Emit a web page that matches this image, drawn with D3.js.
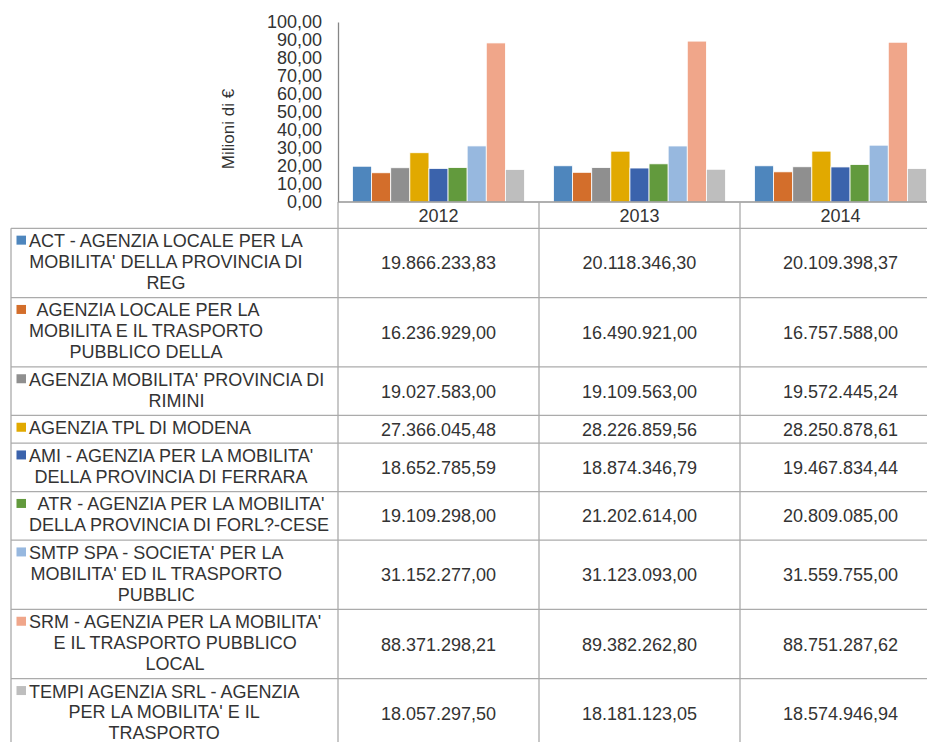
<!DOCTYPE html>
<html>
<head>
  <meta charset="utf-8">
  <title>Agenzie mobilità - Milioni di €</title>
  <script src="https://d3js.org/d3.v7.min.js"></script>
  <style>
  body {
    margin: 0;
    background: #fff;
    font-family: Arial, "Liberation Sans", sans-serif;
  }
  .txt {
    fill: #333;
    font-size: 18px;
    white-space: pre;
  }
  .grid {
    stroke: #ababab;
    stroke-width: 1.3px;
  }
  </style>
</head>
<body>
  <div id="chart"></div>
  <script>
    // dati
    var years = ["2012", "2013", "2014"];

    var labels = [
      ["ACT - AGENZIA LOCALE PER LA", "MOBILITA' DELLA PROVINCIA DI", "REG"],
      [" AGENZIA LOCALE PER LA", "MOBILITA E IL TRASPORTO", "PUBBLICO DELLA"],
      ["AGENZIA MOBILITA' PROVINCIA DI", "RIMINI"],
      ["AGENZIA TPL DI MODENA"],
      ["AMI - AGENZIA PER LA MOBILITA'", "DELLA PROVINCIA DI FERRARA"],
      [" ATR - AGENZIA PER LA MOBILITA'", "DELLA PROVINCIA DI FORL?-CESE"],
      ["SMTP SPA - SOCIETA' PER LA", "MOBILITA' ED IL TRASPORTO", "PUBBLIC"],
      ["SRM - AGENZIA PER LA MOBILITA'", "E IL TRASPORTO PUBBLICO", "LOCAL"],
      ["TEMPI AGENZIA SRL - AGENZIA", "PER LA MOBILITA' E IL", "TRASPORTO"]
    ];

    var values2012 = [19866233.83, 16236929.00, 19027583.00, 27366045.48, 18652785.59, 19109298.00, 31152277.00, 88371298.21, 18057297.50];
    var values2013 = [20118346.30, 16490921.00, 19109563.00, 28226859.56, 18874346.79, 21202614.00, 31123093.00, 89382262.80, 18181123.05];
    var values2014 = [20109398.37, 16757588.00, 19572445.24, 28250878.61, 19467834.44, 20809085.00, 31559755.00, 88751287.62, 18574946.94];

    var yTicks = [0, 10, 20, 30, 40, 50, 60, 70, 80, 90, 100];

    var palette = ["#4e86bd", "#d36e2b", "#8f8f8f", "#e1a900", "#3b63ac", "#629a3d", "#97b8df", "#f0a68a", "#bebebe"];

    var valuesByYear = [values2012, values2013, values2014];

    // formato italiano
    var it = d3.formatLocale({ decimal: ",", thousands: ".", grouping: [3], currency: ["", " €"] });
    var fmt = it.format(",.2f");

    var width = 927, height = 742;
    var svg = d3.select("#chart").append("svg")
      .attr("width", width)
      .attr("height", height);

    var x0 = 338, colW = 201;
    var tableLeft = 11;
    var plotTop = 22, plotBase = 202;

    var x = d3.scaleBand()
      .domain(years)
      .range([x0, x0 + colW * years.length]);

    var xs = d3.scaleBand()
      .domain(d3.range(labels.length))
      .range([14.5, colW - 14.5]);

    var y = d3.scaleLinear()
      .domain([0, 100])
      .range([plotBase, plotTop]);

    // barre
    var groups = svg.selectAll("g.year")
      .data(years)
      .enter().append("g")
      .attr("class", "year")
      .attr("transform", function(d) { return "translate(" + x(d) + ",0)"; });

    groups.selectAll("rect")
      .data(function(d, i) { return valuesByYear[i]; })
      .enter().append("rect")
      .attr("x", function(d, i) { return xs(i); })
      .attr("y", function(d) { return y(d / 1e6); })
      .attr("width", xs.bandwidth())
      .attr("height", function(d) { return plotBase - y(d / 1e6); })
      .attr("fill", function(d, i) { return palette[i]; })
      .attr("stroke", "#fff")
      .attr("stroke-width", 0.8);

    // asse y
    var yAxis = svg.append("g")
      .attr("transform", "translate(" + x0 + ",0)")
      .call(d3.axisLeft(y).tickValues(yTicks).tickSize(0).tickSizeOuter(0).tickPadding(16)
        .tickFormat(function(d) { return fmt(d); }));
    yAxis.select(".domain").attr("stroke", "#868686").attr("stroke-width", 1.3);
    yAxis.selectAll("text")
      .attr("fill", "#333")
      .style("font-size", "18px")
      .style("font-family", "Arial, 'Liberation Sans', sans-serif");

    svg.append("text")
      .attr("class", "txt")
      .attr("transform", "translate(234,129) rotate(-90)")
      .attr("text-anchor", "middle")
      .style("font-size", "17px")
      .text("Milioni di €");

    // tabella dati
    var lineH = 20.8;
    var rowTops = [];
    var yy = 228.3;
    labels.forEach(function(l) {
      rowTops.push(yy);
      yy += 6.9 + lineH * l.length;
    });
    var tableBottom = yy;

    var right = x0 + colW * years.length;

    // linee orizzontali
    svg.append("line").attr("class", "grid")
      .attr("x1", x0).attr("x2", right).attr("y1", plotBase).attr("y2", plotBase)
      .style("stroke", "#969696");
    rowTops.forEach(function(t) {
      svg.append("line").attr("class", "grid")
        .attr("x1", tableLeft).attr("x2", right).attr("y1", t).attr("y2", t);
    });
    // linee verticali
    svg.append("line").attr("class", "grid")
      .attr("x1", tableLeft).attr("x2", tableLeft).attr("y1", 228.3).attr("y2", tableBottom);
    years.forEach(function(yr) {
      svg.append("line").attr("class", "grid")
        .attr("x1", x(yr)).attr("x2", x(yr)).attr("y1", plotBase).attr("y2", tableBottom);
    });
    svg.append("line").attr("class", "grid")
      .attr("x1", right).attr("x2", right).attr("y1", plotBase).attr("y2", tableBottom);

    // intestazione anni
    svg.selectAll("text.yr")
      .data(years)
      .enter().append("text")
      .attr("class", "txt yr")
      .attr("x", function(d) { return x(d) + colW / 2; })
      .attr("y", 221.5)
      .attr("text-anchor", "middle")
      .text(function(d) { return d; });

    // righe
    labels.forEach(function(lines, i) {
      var t = rowTops[i];
      var h = 6.9 + lineH * lines.length;
      var mid = t + h / 2;
      var firstBase = mid - (lines.length - 1) * lineH / 2 + 5;

      // misura larghezze per centrare il blocco
      var tmp = svg.append("g");
      var maxW = 0;
      lines.forEach(function(s) {
        var n = tmp.append("text").attr("class", "txt").text(s);
        maxW = Math.max(maxW, n.node().getComputedTextLength());
      });
      tmp.remove();

      var cx = 29 + maxW / 2;
      lines.forEach(function(s, j) {
        svg.append("text")
          .attr("class", "txt")
          .attr("x", cx)
          .attr("y", firstBase + j * lineH)
          .attr("text-anchor", "middle")
          .text(s);
      });

      svg.append("rect")
        .attr("x", 16.5)
        .attr("y", firstBase - 11.5)
        .attr("width", 9.5)
        .attr("height", 9)
        .attr("fill", palette[i]);

      years.forEach(function(yr, k) {
        svg.append("text")
          .attr("class", "txt")
          .attr("x", x(yr) + colW / 2)
          .attr("y", mid + 6.5)
          .attr("text-anchor", "middle")
          .text(fmt(valuesByYear[k][i]));
      });
    });
  </script>
</body>
</html>
